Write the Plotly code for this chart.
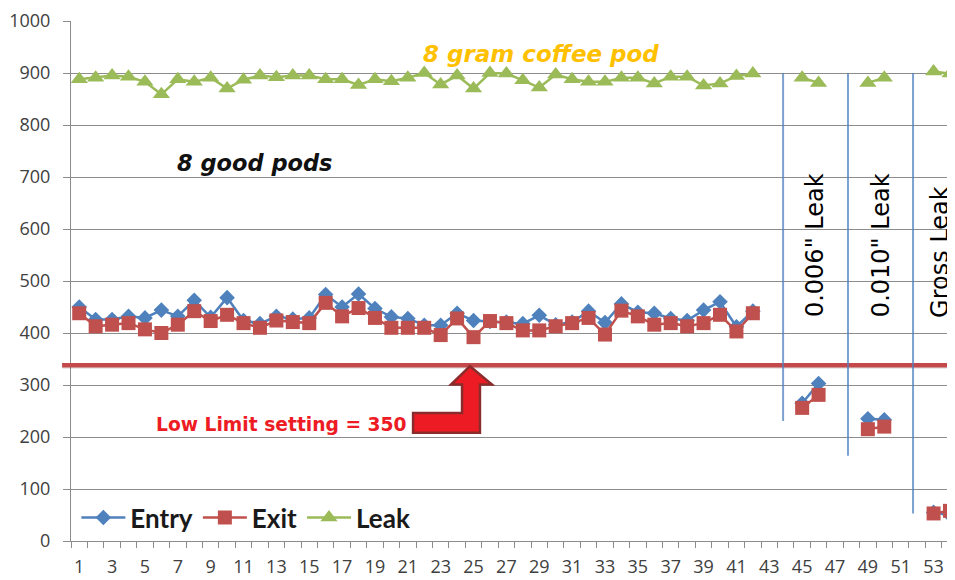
import plotly.graph_objects as go

# ---------------- data ----------------
categories = list(range(1, 55))

entry = [450, 426, 426, 432, 429, 444, 432, 463, 430, 468,
         424, 418, 432, 427, 429, 474, 450, 475, 447, 431,
         428, 415, 415, 438, 424, 422, 421, 418, 434, 416,
         421, 442, 420, 456, 440, 438, 428, 424, 444, 460,
         412, 442, None, None, 265, 303, None, None, 235, 233,
         None, None, 55, 50]

exit_ = [438, 413, 416, 419, 407, 400, 416, 442, 423, 435,
         419, 410, 424, 421, 419, 458, 432, 448, 429, 410,
         410, 410, 396, 428, 392, 423, 419, 405, 405, 413,
         419, 429, 397, 443, 432, 416, 419, 413, 419, 435,
         403, 438, None, None, 256, 281, None, None, 215, 220,
         None, None, 53, 58]

leak = [888, 891, 895, 893, 883, 859, 888, 883, 891, 870,
        887, 895, 892, 895, 895, 888, 888, 877, 888, 884,
        891, 900, 878, 895, 870, 900, 899, 886, 872, 897,
        888, 883, 883, 891, 891, 880, 893, 893, 876, 880,
        894, 899, None, None, 891, 881, None, None, 881, 891,
        None, None, 903, 899]

x_tick_vals = list(range(1, 54, 2))
x_tick_text = [str(v) for v in x_tick_vals]
y_tick_vals = list(range(0, 1001, 100))

low_limit_line = 338          # where the red limit line is drawn
divider_x = [43.84, 47.79, 51.75]
divider_bottom = [231, 164, 53]
divider_top = 900
divider_labels = ['0.006" Leak', '0.010" Leak', 'Gross Leak']
divider_label_x = [45.78, 49.8, 53.39]
divider_label_y = [569, 569, 556]

# ---------------- figure ----------------
BLUE = "#4f81bd"
RED = "#c0504d"
GREEN = "#9bbb59"
GRID = "#8c8c8c"

fig = go.Figure()
fig.add_trace(go.Scatter(x=categories, y=entry, name="<b>Entry</b>", mode="lines+markers",
                         line=dict(color=BLUE, width=2.5),
                         marker=dict(symbol="diamond", size=12, color=BLUE)))
fig.add_trace(go.Scatter(x=categories, y=exit_, name="<b>Exit</b>", mode="lines+markers",
                         line=dict(color=RED, width=2.5),
                         marker=dict(symbol="square", size=14, color=RED)))
fig.add_trace(go.Scatter(x=categories, y=leak, name="<b>Leak</b>", mode="lines+markers",
                         line=dict(color=GREEN, width=2.5),
                         marker=dict(symbol="triangle-up", size=15, color=GREEN)))

shapes = []
# limit line shadow + line
shapes.append(dict(type="line", xref="paper", yref="y", x0=-0.01, x1=1,
                   y0=low_limit_line - 4, y1=low_limit_line - 4,
                   line=dict(color="rgba(0,0,0,0.12)", width=3), layer="above"))
shapes.append(dict(type="line", xref="paper", yref="y", x0=-0.01, x1=1,
                   y0=low_limit_line, y1=low_limit_line,
                   line=dict(color="#c4494a", width=4.5), layer="above"))
# divider lines
for dx, db in zip(divider_x, divider_bottom):
    shapes.append(dict(type="line", xref="x", yref="y", x0=dx, x1=dx,
                       y0=divider_top, y1=db,
                       line=dict(color="rgba(79,129,189,0.75)", width=2)))
# bent arrow pointing at the limit line
arrow_pts = [(21.32, 208), (25.39, 208), (25.39, 301), (26.12, 301),
             (24.78, 336), (23.63, 301), (24.30, 301), (24.30, 246),
             (21.32, 246)]
path = "M " + " L ".join(f"{px},{py}" for px, py in arrow_pts) + " Z"
shapes.append(dict(type="path", xref="x", yref="y", path=path,
                   fillcolor="#ed1c24", line=dict(color="#8b2c2c", width=2.5),
                   layer="above"))

annotations = [
    dict(x=29.1, y=937, xref="x", yref="y", text="<b><i>8 gram coffee pod</i></b>",
         showarrow=False, font=dict(family="DejaVu Sans", size=23, color="#ffc000")),
    dict(x=11.7, y=727, xref="x", yref="y", text="<b><i>8 good pods</i></b>",
         showarrow=False, font=dict(family="DejaVu Sans", size=22.5, color="#111111")),
    dict(x=13.3, y=224, xref="x", yref="y", text="<b>Low Limit setting = 350</b>",
         showarrow=False, font=dict(family="DejaVu Sans", size=18.7, color="#ed1c24")),
]
for lx, ly, lt in zip(divider_label_x, divider_label_y, divider_labels):
    annotations.append(dict(x=lx, y=ly, xref="x", yref="y", text=lt, textangle=-90,
                            showarrow=False,
                            font=dict(family="DejaVu Sans", size=24, color="#000000")))

fig.update_layout(
    width=955, height=580,
    margin=dict(l=63, r=0, t=9, b=47),
    paper_bgcolor="white", plot_bgcolor="white",
    shapes=shapes, annotations=annotations,
    showlegend=True,
    legend=dict(orientation="h", x=0.006, y=0.045, xanchor="left", yanchor="middle",
                bgcolor="rgba(0,0,0,0)", font=dict(family="Lato", size=26, color="#1a1a1a"),
                itemwidth=44, tracegroupgap=0),
    font=dict(family="Open Sans"),
)
fig.update_xaxes(range=[0.5, 54.79], tickmode="array", tickvals=x_tick_vals,
                 ticktext=x_tick_text, ticks="", showgrid=False, zeroline=False,
                 showline=True, linecolor=GRID, linewidth=1, ticklabelstandoff=9,
                 ticklabeloverflow="allow",
                 tickfont=dict(family="Open Sans", size=18, color="#404040"),
                 minor=dict(tickmode="linear", tick0=0.5, dtick=1, ticks="outside",
                            ticklen=6, tickcolor=GRID, tickwidth=1, showgrid=False))
fig.update_yaxes(range=[0, 1000], tickmode="array", tickvals=y_tick_vals,
                 ticks="outside", ticklen=7, tickcolor=GRID, showgrid=True,
                 gridcolor=GRID, gridwidth=1, zeroline=False, showline=True,
                 linecolor=GRID, linewidth=1, ticklabelstandoff=9,
                 ticklabeloverflow="allow",
                 tickfont=dict(family="Open Sans", size=18, color="#404040"))

fig.write_html("out.html")
